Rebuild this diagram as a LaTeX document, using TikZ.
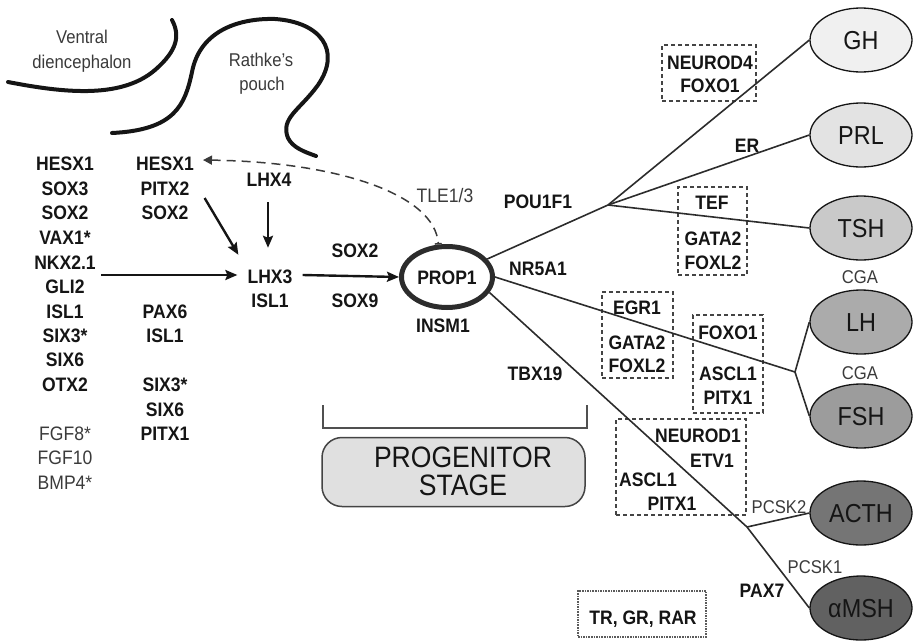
\documentclass[tikz,border=0pt]{standalone}
\usepackage{fontspec}
\setmainfont{Liberation Sans}[FakeStretch=0.9]
\usetikzlibrary{shapes.geometric,arrows.meta,calc}
\definecolor{ink}{HTML}{151515}
\definecolor{soft}{HTML}{3A3A3A}
\begin{document}
\begin{tikzpicture}[x=1pt,y=-1pt,
  gene/.style={font=\bfseries\fontsize{19.5}{19.5}\selectfont, inner sep=0pt, text height=14pt, text depth=0pt, text=ink},
  plain/.style={font=\fontsize{19.5}{19.5}\selectfont, inner sep=0pt, text height=14pt, text depth=0pt, text=soft},
  tag/.style={font=\fontsize{18.5}{18.5}\selectfont, inner sep=0pt, text height=13.2pt, text depth=0pt, text=soft},
  hormone/.style={ellipse, draw=ink, line width=1.3pt, minimum width=102pt, minimum height=64pt, inner sep=0pt,
    font=\fontsize{26}{26}\selectfont, text height=18.6pt, text depth=0pt, text=ink},
  bigtext/.style={font=\fontsize{29.5}{29.5}\selectfont, text=ink, inner sep=0pt, text height=21pt, text depth=0pt},
  arr/.style={line width=2.4pt, draw=ink, -{Stealth[length=12pt,width=10pt,inset=2pt]}},
  branch/.style={line width=1.6pt, draw=ink!90},
  tfbox/.style={draw=ink!80, line width=1.3pt, dash pattern=on 4pt off 3pt, inner sep=0pt},
  tissue/.style={line width=4pt, line cap=round, draw=ink},
]
\useasboundingbox (0,0) rectangle (913,643);

% tissue outlines
\draw[tissue] (8,82) .. controls (60,92) and (120,100) .. (155,70)
  .. controls (178,50) and (180,35) .. (172,20);
\draw[tissue] (112,133) .. controls (175,130) and (185,105) .. (192,72)
  .. controls (200,30) and (240,18) .. (275,19)
  .. controls (320,22) and (342,50) .. (318,85)
  .. controls (300,110) and (280,118) .. (288,138)
  .. controls (293,148) and (305,152) .. (316,156);
\node[tag] (vd1) at (82,37) {Ventral};
\node[tag] (vd2) at (82,62) {diencephalon};
\node[tag] (rp1) at (261,60) {Rathke's};
\node[tag] (rp2) at (262,84) {pouch};

% first column of factors
\foreach \n/\y/\t in {a/163/HESX1, b/188/SOX3, c/212/SOX2, d/237/VAX1*, e/262/NKX2.1,
  f/286/GLI2, g/311/ISL1, h/335/SIX3*, i/359/SIX6, j/384/OTX2}
  \node[gene] (L\n) at (65,\y) {\t};
\foreach \n/\y/\t in {k/433/FGF8*, l/457/FGF10, m/482/BMP4*}
  \node[plain] (L\n) at (65,\y) {\t};

% second column of factors
\foreach \n/\y/\t in {a/163/HESX1, b/188/PITX2, c/212/SOX2, d/311/PAX6, e/335/ISL1,
  f/384/SIX3*, g/409/SIX6, h/433/PITX1}
  \node[gene] (M\n) at (165,\y) {\t};

\node[gene] (lhx4) at (269,179) {LHX4};
\node[gene] (lhx3) at (270,276) {LHX3};
\node[gene] (isl1) at (270,300) {ISL1};
\node[gene] (sox2) at (355,250) {SOX2};
\node[gene] (sox9) at (355,300) {SOX9};

\node[gene, ellipse, draw=ink!90, line width=5pt, minimum width=91pt, minimum height=61pt] (prop) at (447,277) {PROP1};
\node[gene] (insm) at (443,325) {INSM1};
\node[plain] (tle) at (445,195) {TLE1/3};

% arrows towards LHX3 and PROP1
\coordinate (leftsrc) at (101,275);
\draw[arr] (leftsrc) -- ($(lhx3.west)+(-10,-1)$);
\draw[arr] ($(Mb.east)+(15,10)$) -- ($(lhx3.north west)+(-9,-14)$);
\draw[arr] ($(lhx4.south)+(-1,16)$) -- ($(lhx3.north)+(-2,-21)$);
\draw[arr] ($(lhx3.east)+(10,-1)$) -- (prop.west);
\draw[line width=1.5pt, draw=soft, dash pattern=on 9pt off 6pt,
  {Triangle[length=9pt,width=9pt]}-{Bar[width=7pt,line width=1.5pt]}]
  ($(Ma.east)+(9,-3)$) .. controls (340,162) and (435,195) .. (prop.105);

% hormone-producing lineages
\node[hormone, fill=black!6]  (gh)   at (861,40)  {GH};
\node[hormone, fill=black!11] (prl)  at (861,135) {PRL};
\node[hormone, fill=black!21] (tsh)  at (861,228) {TSH};
\node[hormone, fill=black!33] (lh)   at (861,322) {LH};
\node[hormone, fill=black!39] (fsh)  at (861,416) {FSH};
\node[hormone, fill=black!54] (acth) at (861,513) {ACTH};
\node[hormone, fill=black!62] (msh)  at (861,608) {αMSH};
\node[tag] (cga1) at (860,277) {CGA};
\node[tag] (cga2) at (860,373) {CGA};

% dashed boxes of co-factors
\node[tfbox, minimum width=94pt, minimum height=56pt] (bx1) at (709,73) {};
\node[tfbox, minimum width=69pt, minimum height=88pt] (bx2) at (712.5,231) {};
\node[tfbox, minimum width=71pt, minimum height=86pt] (bx3) at (637.5,335) {};
\node[tfbox, minimum width=70pt, minimum height=98pt] (bx4) at (728,364) {};
\node[tfbox, minimum width=130pt, minimum height=96pt] (bx5) at (681,467) {};
\node[draw=ink!70, line width=1.6pt, densely dotted, minimum width=128pt, minimum height=46pt, inner sep=0pt] (bx6) at (642,614) {};

% branching lines
\coordinate (pou) at (608,205);
\coordinate (gon) at (795,372);
\coordinate (cort) at (747,527);
\draw[branch] (prop) -- (pou);
\draw[branch] (pou) -- (gh.west);
\draw[branch] (pou) -- (prl.west);
\draw[branch] (pou) -- (tsh.west);
\draw[branch] (prop.east) -- (gon);
\draw[branch] (gon) -- (lh.west);
\draw[branch] (gon) -- (fsh.west);
\draw[branch] (prop.-20) -- (cort);
\draw[branch] (cort) -- (acth.west);
\draw[branch] (cort) -- (msh.west);

\node[gene] (pou1f1) at (538,201) {POU1F1};
\node[gene] (nr5a1) at (538,268) {NR5A1};
\node[gene] (tbx19) at (535,373) {TBX19};
\node[gene] (er) at (747,145) {ER};
\node[tag] (pcsk2) at (779,507) {PCSK2};
\node[tag] (pcsk1) at (815,567) {PCSK1};
\node[gene] (pax7) at (762,590) {PAX7};

\node[gene] (b1a) at (710,62) {NEUROD4};
\node[gene] (b1b) at (710,85) {FOXO1};
\node[gene] (b2a) at (712,202) {TEF};
\node[gene] (b2b) at (713,238) {GATA2};
\node[gene] (b2c) at (713,262) {FOXL2};
\node[gene] (b3a) at (637,307) {EGR1};
\node[gene] (b3b) at (637,342) {GATA2};
\node[gene] (b3c) at (637,365) {FOXL2};
\node[gene] (b4a) at (728,332) {FOXO1};
\node[gene] (b4b) at (728,373) {ASCL1};
\node[gene] (b4c) at (728,397) {PITX1};
\node[gene] (b5a) at (698,435) {NEUROD1};
\node[gene] (b5b) at (712,460) {ETV1};
\node[gene] (b5c) at (648,479) {ASCL1};
\node[gene] (b5d) at (672,503) {PITX1};
\node[gene] (b6a) at (643,617) {TR, GR, RAR};

% progenitor stage
\draw[line width=1.5pt, draw=ink!75] (323,405) |- (587,428) -- (587,405);
\node[draw=ink!80, line width=1.5pt, fill=black!12, rounded corners=20pt,
  minimum width=263pt, minimum height=69pt, inner sep=0pt] (prog) at (453.5,472) {};
\node[bigtext] (prog1) at (463,457) {PROGENITOR};
\node[bigtext] (prog2) at (463,485) {STAGE};
\end{tikzpicture}
\end{document}
